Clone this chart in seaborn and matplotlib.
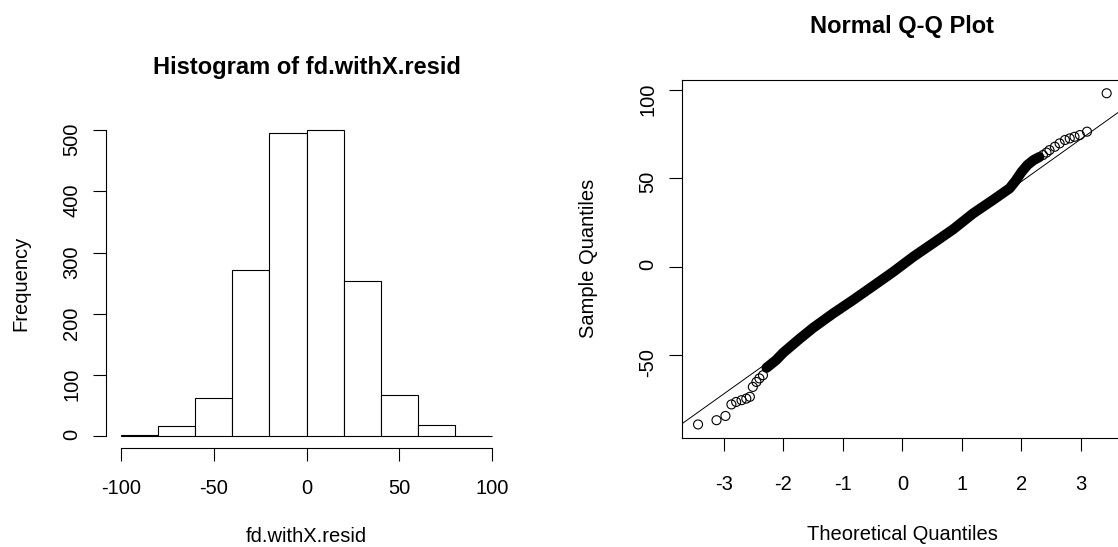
import numpy as np
import matplotlib
matplotlib.use("Agg")
import matplotlib.pyplot as plt
import seaborn as sns

# histogram of the residuals (bin edges and counts)
hist_edges = [-100, -80, -60, -40, -20, 0, 20, 40, 60, 80, 100]
hist_counts = [2, 17, 62, 271, 495, 500, 253, 67, 18, 0]

# normal Q-Q plot: dense middle part of the point cloud (theoretical, sample)
band_theo = [-2.28, -2.12, -2.00, -1.72, -1.50, -1.17, -0.83, -0.49, -0.16,
             0.18, 0.51, 0.85, 1.19, 1.52, 1.80, 1.90, 2.00, 2.10, 2.20, 2.30]
band_samp = [-57.0, -52.7, -48.5, -40.5, -34.5, -26.5, -18.8, -10.8, -3.0,
             5.6, 13.2, 21.1, 30.2, 37.7, 44.3, 48.5, 53.5, 57.5, 60.2, 62.0]

# separate circles in the two tails
tail_theo = [-3.43, -3.12, -2.97, -2.87, -2.79, -2.70, -2.62, -2.56, -2.51,
             -2.45, -2.40, -2.34, 2.36, 2.42, 2.47, 2.56, 2.64, 2.73, 2.81,
             2.89, 2.98, 3.10, 3.43]
tail_samp = [-89.0, -86.6, -84.2, -77.7, -76.3, -75.3, -74.4, -73.4, -67.8,
             -65.0, -63.0, -61.2, 63.1, 64.5, 65.9, 67.8, 69.7, 71.6, 72.5,
             73.4, 74.4, 76.3, 98.0]

# qqline through the quartiles
qq_intercept = 0.2
qq_slope = 24.0

hist_xticks = [-100, -50, 0, 50, 100]
hist_yticks = [0, 100, 200, 300, 400, 500]
qq_xticks = [-3, -2, -1, 0, 1, 2, 3]
qq_yticks = [-50, 0, 50, 100]

sns.set_style("ticks")
plt.rcParams["font.family"] = ["Liberation Sans", "DejaVu Sans"]
plt.rcParams["axes.unicode_minus"] = False
plt.rcParams["text.color"] = "black"
plt.rcParams["axes.labelcolor"] = "black"

FS = 14.5
TFS = 17

fig = plt.figure(figsize=(11.18, 5.47), dpi=100)
W, H = 1118, 547


def px_axes(left, top, right, bottom):
    return fig.add_axes([left / W, 1 - bottom / H, (right - left) / W, (bottom - top) / H])


def r_pad(lo, hi):
    d = (hi - lo) * 0.04
    return lo - d, hi + d


# ---- left: histogram
ax1 = px_axes(106, 118, 507, 448.2)
mids = [(a + b) / 2 for a, b in zip(hist_edges[:-1], hist_edges[1:])]
sns.histplot(x=mids, weights=hist_counts, bins=hist_edges, color="white",
             edgecolor="black", linewidth=0.8, alpha=1, ax=ax1)
ax1.set_xlim(r_pad(hist_edges[0], hist_edges[-1]))
ax1.set_ylim(r_pad(0, max(hist_counts)))
for s in ["top", "right"]:
    ax1.spines[s].set_visible(False)
ax1.spines["bottom"].set_bounds(hist_xticks[0], hist_xticks[-1])
ax1.spines["left"].set_bounds(hist_yticks[0], hist_yticks[-1])
ax1.set_xticks(hist_xticks)
ax1.set_yticks(hist_yticks)
ax1.tick_params(axis="x", pad=13)
ax1.tick_params(axis="y", labelrotation=90, pad=8.4)
ax1.set_xlabel("fd.withX.resid", fontsize=FS)
ax1.set_ylabel("Frequency", fontsize=FS)
ax1.xaxis.set_label_coords(0.5, (448.2 - 537) / 330.2)
ax1.xaxis.label.set_va("center")
ax1.yaxis.set_label_coords((20.7 - 106) / 401, 0.5)
ax1.yaxis.label.set_va("center")
ax1.set_title("Histogram of fd.withX.resid", fontsize=TFS, fontweight="bold",
              y=1 + (118 - 68) / 330.2, va="center", pad=0, color="black")

# ---- right: normal Q-Q plot
ax2 = px_axes(681.7, 80, 1123, 437.7)
ax2.axline((0, qq_intercept), slope=qq_slope, color="black", lw=0.7)
sns.lineplot(x=band_theo, y=band_samp, sort=False, estimator=None,
             color="black", lw=7.3, solid_capstyle="round", ax=ax2)
sns.scatterplot(x=tail_theo, y=tail_samp, marker="o", s=42,
                facecolors="none", edgecolor="black", linewidth=0.8, ax=ax2)
all_theo = band_theo + tail_theo
all_samp = band_samp + tail_samp
ax2.set_xlim(r_pad(min(all_theo), max(all_theo)))
ax2.set_ylim(r_pad(min(all_samp), max(all_samp)))
ax2.set_xticks(qq_xticks)
ax2.set_yticks(qq_yticks)
ax2.tick_params(axis="x", pad=17)
ax2.tick_params(axis="y", labelrotation=90, pad=8.1)
ax2.set_xlabel("Theoretical Quantiles", fontsize=FS)
ax2.set_ylabel("Sample Quantiles", fontsize=FS)
ax2.xaxis.set_label_coords(0.5, (437.7 - 535) / 357.7)
ax2.xaxis.label.set_va("center")
ax2.yaxis.set_label_coords((588 - 681.7) / 441.3, 0.5)
ax2.yaxis.label.set_va("center")
ax2.set_title("Normal Q-Q Plot", fontsize=TFS, fontweight="bold",
              y=1 + (80 - 26) / 357.7, va="center", pad=0, color="black")

for ax in (ax1, ax2):
    for sp in ax.spines.values():
        sp.set_color("black")
        sp.set_linewidth(0.8)
    ax.tick_params(direction="out", length=9.5, width=0.8, colors="black",
                   labelsize=FS)
    ax.grid(False)

fig.savefig("out.png", dpi=100)
